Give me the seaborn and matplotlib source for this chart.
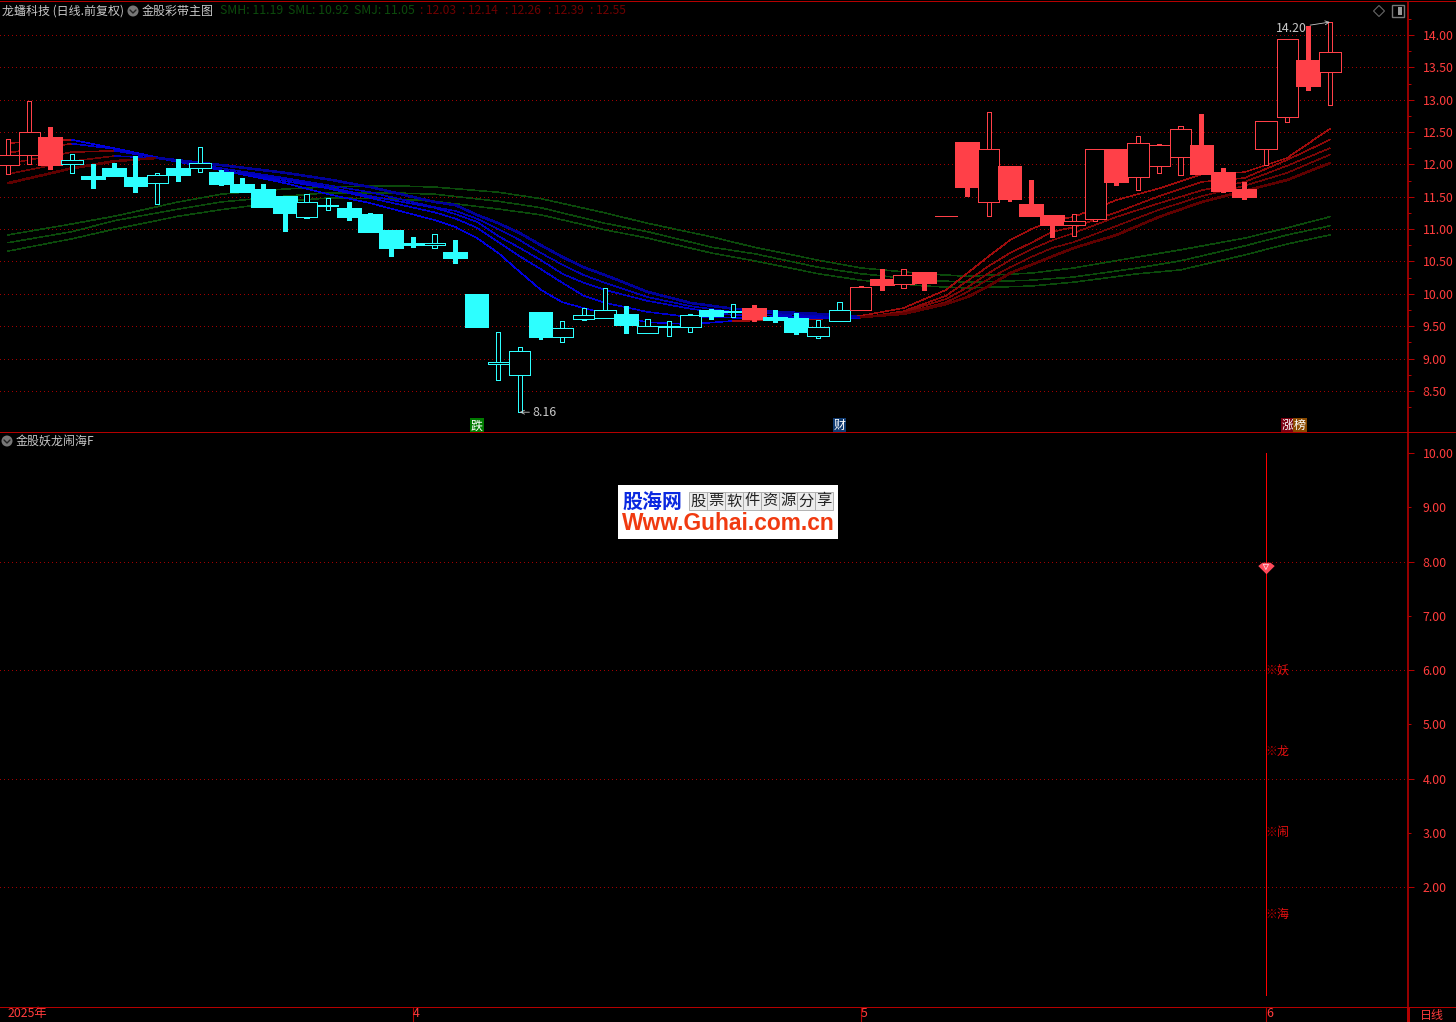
import numpy as np
import seaborn as sns
import matplotlib
matplotlib.use('Agg')
import matplotlib.pyplot as plt
from matplotlib.patches import Circle, Rectangle, Polygon

# candles, index 0..62, prices
high = [12.39,12.98,12.58,12.16,12.01,12.02,12.13,11.87,12.08,12.27,11.91,11.79,11.70,11.51,11.54,11.48,11.42,11.25,10.97,10.88,10.92,10.83,
        9.98,9.41,9.18,9.70,9.58,9.78,10.09,9.81,9.61,9.58,9.69,9.77,9.84,9.83,9.75,9.70,9.59,9.87,10.12,10.38,10.38,10.34,
        11.20,12.33,12.81,11.98,11.76,11.22,11.23,12.24,12.24,12.44,12.32,12.59,12.78,11.94,11.73,12.67,13.94,14.14,14.20]
low = [11.85,12.01,11.91,11.87,11.62,11.81,11.56,11.39,11.73,11.88,11.67,11.57,11.34,10.96,11.17,11.30,11.13,10.94,10.57,10.71,10.71,10.46,
       9.49,8.67,8.17,9.29,9.25,9.59,9.63,9.38,9.39,9.35,9.41,9.59,9.64,9.56,9.55,9.36,9.32,9.58,9.75,10.04,10.09,10.04,
       11.20,11.50,11.20,11.42,11.20,10.86,10.89,11.13,11.67,11.60,11.87,11.84,11.85,11.56,11.45,11.99,12.66,13.13,12.92]
body_top = [12.15,12.50,12.41,12.07,11.81,11.93,11.79,11.84,11.93,12.02,11.87,11.68,11.60,11.50,11.42,11.37,11.31,11.22,10.97,10.77,10.79,10.63,
            9.98,8.94,9.12,9.70,9.47,9.67,9.75,9.67,9.50,9.50,9.67,9.73,9.73,9.77,9.63,9.61,9.49,9.75,10.11,10.21,10.29,10.32,
            11.20,12.33,12.24,11.96,11.37,11.20,11.13,12.24,12.22,12.33,12.30,12.55,12.28,11.87,11.60,12.67,13.94,13.60,13.74]
body_bot = [11.99,12.15,11.99,12.01,11.77,11.82,11.67,11.71,11.84,11.94,11.70,11.57,11.34,11.25,11.19,11.36,11.19,10.96,10.71,10.75,10.75,10.55,
            9.49,8.92,8.74,9.33,9.33,9.61,9.63,9.52,9.39,9.49,9.49,9.66,9.72,9.61,9.59,9.41,9.35,9.58,9.75,10.14,10.15,10.17,
            11.20,11.65,11.42,11.47,11.20,11.06,11.06,11.16,11.73,11.81,11.98,12.11,11.85,11.59,11.50,12.24,12.73,13.21,13.43]
# 1 = red, 0 = cyan
is_red = [1,1,1]+[0]*32+[1]+[0]*4+[1]*23
# 1 = filled body, 0 = hollow
is_solid = [0,0,1,0,1,1,1,0,1,0,1,1,1,1,0,0,1,1,1,1,0,1,
            1,0,0,1,0,0,0,1,0,0,0,1,0,1,1,1,0,0,0,1,0,1,
            0,1,0,1,1,1,0,0,1,0,0,0,1,1,1,0,0,1,0]

# colour ribbon, fastest to slowest
ribbon_idx = [0,3,5,7,10,13,15,17,20,21,22,23,24,25,26,27,28,30,32,34,36,38,40,42,44,45,46,47,48,49,50,52,54,56,58,60,62]
sm1 = [12.33,12.38,12.25,12.11,11.91,11.71,11.54,11.40,11.14,11.03,10.86,10.63,10.34,10.06,9.87,9.78,9.70,9.56,9.53,9.58,9.59,9.61,9.66,9.78,10.06,10.32,10.58,10.83,11.00,11.13,11.19,11.45,11.63,11.85,11.88,12.10,12.55]
sm2 = [12.18,12.32,12.24,12.11,11.91,11.74,11.63,11.48,11.26,11.16,11.02,10.80,10.58,10.38,10.17,9.97,9.86,9.72,9.64,9.63,9.63,9.63,9.63,9.73,9.97,10.20,10.43,10.63,10.79,10.96,11.03,11.26,11.51,11.73,11.79,12.07,12.38]
sm3 = [12.01,12.19,12.21,12.10,11.91,11.77,11.65,11.51,11.33,11.23,11.11,10.89,10.71,10.52,10.31,10.17,10.06,9.89,9.77,9.67,9.66,9.64,9.63,9.72,9.92,10.10,10.32,10.52,10.69,10.83,10.94,11.19,11.40,11.60,11.73,11.98,12.25]
sm4 = [11.85,12.05,12.13,12.10,11.94,11.79,11.68,11.57,11.34,11.28,11.16,11.00,10.83,10.63,10.45,10.29,10.17,9.95,9.81,9.72,9.69,9.66,9.63,9.70,9.87,10.03,10.23,10.41,10.57,10.71,10.80,11.05,11.30,11.51,11.67,11.87,12.15]
sm5 = [11.71,11.94,12.05,12.10,11.99,11.87,11.77,11.65,11.42,11.37,11.22,11.09,10.94,10.75,10.57,10.41,10.29,10.03,9.86,9.77,9.72,9.69,9.64,9.69,9.84,9.95,10.12,10.32,10.45,10.58,10.71,10.91,11.19,11.42,11.59,11.76,12.02]
blue_from = [3,3,5,5,7]
red_from = [34,40,40,40,40]

# green band
green_idx = [0,3,5,8,10,13,15,18,20,23,25,28,30,33,35,38,40,43,45,48,50,53,55,58,60,62]
smh = [10.91,11.08,11.20,11.42,11.54,11.62,11.65,11.67,11.65,11.57,11.47,11.25,11.09,10.88,10.72,10.52,10.40,10.31,10.27,10.32,10.40,10.57,10.68,10.86,11.02,11.19]
smj = [10.79,10.96,11.13,11.31,11.42,11.51,11.56,11.56,11.54,11.43,11.33,11.09,10.96,10.72,10.62,10.41,10.31,10.21,10.18,10.21,10.26,10.40,10.51,10.74,10.91,11.05]
sml = [10.66,10.85,11.00,11.20,11.30,11.43,11.48,11.47,11.43,11.31,11.22,10.99,10.86,10.63,10.51,10.31,10.21,10.12,10.09,10.12,10.18,10.31,10.37,10.60,10.77,10.91]

# lower panel signal
signal_idx = 59
signal_top = 10.0
signal_bot = 0.0
gem_value = 7.88
word_values = [6.0, 4.5, 3.0, 1.5]
word_labels = ['妖', '龙', '闹', '海']

month_idx = [0, 19, 40, 59]
month_labels = ['2025年', '4', '5', '6']
legend_green = ['SMH: 11.19', 'SML: 10.92', 'SMJ: 11.05']
legend_red = ['12.03', '12.14', '12.26', '12.39', '12.55']

W, H = 1456, 1022
PANEL_R = 1408
RED_AXIS = '#b40000'
RED_TXT = '#ff3c3c'
RED = '#ff4048'
CYAN = '#2dffff'
GRID = '#a00000'
GREY = '#c8c8c8'

sns.set_theme(style='dark', rc={'figure.facecolor': 'black', 'axes.facecolor': 'black',
                                'savefig.facecolor': 'black', 'axes.edgecolor': RED_AXIS})
plt.rcParams['font.family'] = ['Noto Sans CJK SC', 'DejaVu Sans']
plt.rcParams['axes.unicode_minus'] = False
FS = 8.64
NUM_FS = 8.9


def px_axes(fig, left, top, right, bottom):
    return fig.add_axes([left/W, 1-bottom/H, (right-left)/W, (bottom-top)/H])


def draw_line(ax, x, y, color, lw):
    sns.lineplot(x=x, y=y, ax=ax, color=color, linewidth=lw, legend=False, sort=False,
                 estimator=None, errorbar=None, antialiased=False, zorder=2)


def draw_candle(ax, i):
    col = RED if is_red[i] else CYAN
    z = 3+i*0.01
    if is_solid[i]:
        ax.bar(i, high[i]-low[i], bottom=low[i], width=0.23, color=col, linewidth=0, zorder=z, antialiased=False)
        ax.bar(i, body_top[i]-body_bot[i], bottom=body_bot[i], width=1.07, color=col, edgecolor=col,
               linewidth=0.3, zorder=z, antialiased=False)
    else:
        ax.bar(i, high[i]-low[i], bottom=low[i], width=0.2, color='black', edgecolor=col, linewidth=0.6,
               zorder=z, antialiased=False)
        ax.bar(i, body_top[i]-body_bot[i], bottom=body_bot[i], width=1.0, color='black', edgecolor=col,
               linewidth=0.6, zorder=z, antialiased=False)


def style_panel(ax, major, minor, major_labels, minor_labels, ylim):
    ax.set_xlim(-0.375, 65.666)
    ax.set_ylim(*ylim)
    ax.yaxis.tick_right()
    ax.set_yticks(major)
    ax.set_yticklabels(major_labels)
    ax.set_yticks(minor, minor=True)
    ax.set_yticklabels(minor_labels, minor=True)
    ax.tick_params(axis='y', which='major', length=4, width=0.72, color=RED_AXIS, pad=6.5, labelsize=NUM_FS,
                   labelcolor=RED_TXT, right=True, left=False)
    ax.tick_params(axis='y', which='minor', length=2, width=0.72, color=RED_AXIS, pad=8.5, labelsize=NUM_FS,
                   labelcolor=RED_TXT, right=True, left=False)
    ax.grid(True, axis='y', which='major', color=GRID, linewidth=0.5, linestyle=(0, (1.4, 4.4)), antialiased=False)
    ax.grid(False, axis='x')
    ax.set_axisbelow(True)
    for s in ['left', 'top', 'bottom']:
        ax.spines[s].set_visible(False)
    ax.spines['right'].set_color(RED_AXIS)
    ax.spines['right'].set_linewidth(1.2)


fig = plt.figure(figsize=(W/100, H/100), dpi=100)
ax1 = px_axes(fig, 0, 2, PANEL_R, 432)
ax2 = px_axes(fig, 0, 433, PANEL_R, 1007)

# upper panel
up_major = [8.5+0.5*k for k in range(12)]
up_minor = [8.25+0.5*k for k in range(13)]
style_panel(ax1, up_major, up_minor, ['%.2f' % v for v in up_major], ['']*len(up_minor), (7.864, 14.51))
ax1.set_xticks([])

for g in [smh, smj, sml]:
    draw_line(ax1, green_idx, g, '#0b4a0b', 0.4)

sm_all = [sm1, sm2, sm3, sm4, sm5]
red_cols = ['#a00c0c', '#8e0808', '#7e0606', '#700404', '#600000']
blue_cols = ['#0000e0', '#0000d0', '#0000c4', '#0000b4', '#00009a']
widths = [0.4, 0.4, 0.4, 0.4, 1.1]
for k in range(5):
    a = ribbon_idx.index(blue_from[k])
    b = ribbon_idx.index(red_from[k])
    s = sm_all[k]
    draw_line(ax1, ribbon_idx[:a+1], s[:a+1], red_cols[k], widths[k])
    draw_line(ax1, ribbon_idx[a:b+1], s[a:b+1], blue_cols[k], widths[k])
    draw_line(ax1, ribbon_idx[b:], s[b:], red_cols[k], widths[k])

for i in range(len(high)):
    draw_candle(ax1, i)

arrow = dict(arrowstyle='->', color=GREY, lw=0.6, shrinkA=0, shrinkB=0, mutation_scale=7)
ax1.annotate('14.20', xy=(62, 14.20), xytext=(-23, -6), textcoords='offset pixels', ha='right', va='center',
             color=GREY, fontsize=NUM_FS, arrowprops=arrow, zorder=9)
ax1.annotate('8.16', xy=(24, 8.17), xytext=(13, 0), textcoords='offset pixels', ha='left', va='center',
             color=GREY, fontsize=NUM_FS, arrowprops=arrow, zorder=9)

tag_y = 7.96
tag_kw = dict(ha='center', va='center', color='white', fontsize=FS, zorder=9)
ax1.text(22, tag_y, '跌', bbox=dict(fc='#007a00', ec='none', pad=0.6), **tag_kw)
ax1.text(39, tag_y, '财', bbox=dict(fc='#103a70', ec='none', pad=0.6), **tag_kw)
ax1.text(60.02, tag_y, '涨', bbox=dict(fc='#7a0010', ec='none', pad=0.6), **tag_kw)
ax1.text(60.6, tag_y, '榜', bbox=dict(fc='#8a4a00', ec='none', pad=0.6), **tag_kw)

# lower panel
lo_major = [2, 4, 6, 8, 10]
lo_minor = [3, 5, 7, 9]
style_panel(ax2, lo_major, lo_minor, ['%.2f' % v for v in lo_major], ['%.2f' % v for v in lo_minor], (-0.212, 10.369))
ax2.yaxis.grid(False, which='major')
for v in [2, 4, 6, 8]:
    ax2.axhline(v, color=GRID, linewidth=0.5, linestyle=(0, (1.4, 4.4)), antialiased=False, zorder=1)
ax2.vlines(signal_idx, signal_bot, signal_top, color='#ff0000', linewidth=0.6, zorder=3, antialiased=False)
gem = [(-1, 0.3), (-0.5, 0.7), (0.5, 0.7), (1, 0.3), (0, -0.7)]
ax2.scatter([signal_idx], [gem_value], marker=gem, s=140, c='#ff4a5a', linewidths=0, zorder=4)
ax2.scatter([signal_idx], [gem_value+0.02], marker='v', s=14, facecolors='none', edgecolors='#ffd0d8', linewidths=0.6, zorder=5)
for v, w in zip(word_values, word_labels):
    ax2.annotate('※', xy=(signal_idx, v), xytext=(5, 0), textcoords='offset pixels', ha='center', va='center',
                 color='#c00000', fontsize=FS)
    ax2.annotate(w, xy=(signal_idx, v), xytext=(17, 0), textcoords='offset pixels', ha='center', va='center',
                 color='#e81010', fontsize=FS)

ax2.set_xticks(month_idx)
ax2.set_xticklabels(month_labels, ha='left', color=RED_TXT, fontsize=FS*1.03)
ax2.tick_params(axis='x', length=10.8, width=0.8, color=RED_AXIS, pad=-11, bottom=True)
ax2.xaxis.get_major_ticks()[0].tick1line.set_visible(False)

# frame, headers and logo in pixel coordinates
ov = fig.add_axes([0, 0, 1, 1], zorder=20)
ov.set_xlim(0, W)
ov.set_ylim(H, 0)
ov.axis('off')
ov.patch.set_alpha(0)
for y, lw in [(1.5, 0.7), (432.5, 0.7), (1007, 0.7)]:
    ov.plot([0, W], [y, y], color=RED_AXIS, lw=lw, antialiased=False)
ov.plot([1408, 1408], [1007, H], color=RED_AXIS, lw=0.8, antialiased=False)

ov.text(2, 11, '龙蟠科技 (日线.前复权)', color=GREY, fontsize=FS, va='center')
ov.text(142, 11, '金股彩带主图', color=GREY, fontsize=FS, va='center')
ov.text(16, 441, '金股妖龙闹海F', color=GREY, fontsize=FS, va='center')
for cx, cy in [(133, 11), (7, 441)]:
    ov.add_patch(Circle((cx, cy), 5.5, fc='#777777', ec='none'))
    ov.plot([cx-3, cx, cx+3], [cy-1, cy+2, cy-1], color='#222222', lw=1)
for x, t in zip([220, 288, 354], legend_green):
    ov.text(x, 11, t, color='#0c4a0c', fontsize=NUM_FS, va='center')
for k, t in enumerate(legend_red):
    ov.text(420+42.5*k, 11, ': '+t, color='#6e0000', fontsize=FS, va='center')
ov.add_patch(Polygon([(1379, 5.5), (1384.5, 11), (1379, 16.5), (1373.5, 11)], fc='none', ec='#666666', lw=0.8))
ov.add_patch(Rectangle((1392, 5), 12, 12, fc='none', ec='#777777', lw=1))
ov.add_patch(Rectangle((1398, 7), 4, 8, fc='#999999', ec='none'))
ov.text(1432, 1015, '日线', color=RED_TXT, fontsize=FS, ha='center', va='center')

ov.add_patch(Rectangle((618, 485), 220, 54, fc='white', ec='none'))
ov.text(652, 501, '股海网', color='#0a28e0', fontsize=14.4, fontweight='bold', ha='center', va='center')
for k, ch in enumerate('股票软件资源分享'):
    ov.add_patch(Rectangle((689+18*k, 492), 18, 18, fc='#ececec', ec='#a8a8a8', lw=0.6))
    ov.text(698+18*k, 501, ch, color='#222222', fontsize=11, ha='center', va='center')
ov.text(728, 523.5, 'Www.Guhai.com.cn', color='#f03a10', fontsize=16.4, fontweight='bold',
        family='Liberation Sans', ha='center', va='center')

fig.savefig('out.png', dpi=100, facecolor='black')
